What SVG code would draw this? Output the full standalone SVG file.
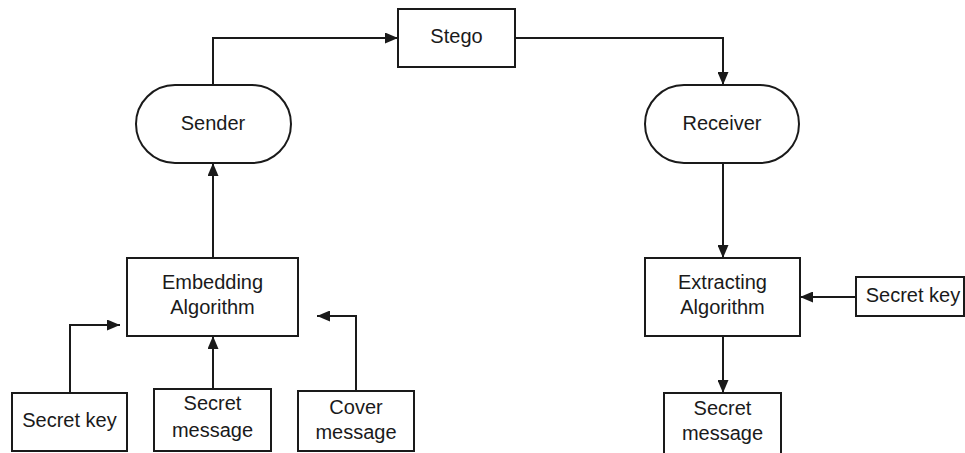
<svg xmlns="http://www.w3.org/2000/svg" width="965" height="453" viewBox="0 0 965 453">
<defs>
<marker id="ah" viewBox="0 0 13 11" refX="13" refY="5.500" markerWidth="13" markerHeight="11" markerUnits="userSpaceOnUse" orient="auto">
<path d="M0,0 L13,5.500 L0,11 Z" fill="#1a1a1a"/>
</marker>
</defs>
<style>
.box{fill:#fff;stroke:#1a1a1a;stroke-width:2}
.t{font-family:"Liberation Sans",Arial,sans-serif;font-size:20px;fill:#1a1a1a;text-anchor:middle}
.c{fill:none;stroke:#1a1a1a;stroke-width:2;marker-end:url(#ah)}
</style>
<rect width="965" height="453" fill="#fff"/>
<g id="connectors">
<path class="c" d="M213,85 V38 H398"/>
<path class="c" d="M515,38 H723 V85"/>
<path class="c" d="M213,258 V163"/>
<path class="c" d="M723,163 V258"/>
<path class="c" d="M856,297 H800"/>
<path class="c" d="M723,336 V393"/>
<path class="c" d="M70,393 V325 H120"/>
<path class="c" d="M213,389 V336"/>
<path class="c" d="M356,391 V316 H317"/>
</g>
<g id="stego"><rect class="box" x="398" y="9" width="117" height="58"/><text class="t" x="456.500" y="43">Stego</text></g>
<g id="sender"><rect class="box" x="136" y="85" width="155" height="78" rx="39"/><text class="t" x="213" y="130">Sender</text></g>
<g id="receiver"><rect class="box" x="645" y="85" width="154" height="78" rx="39"/><text class="t" x="722" y="130">Receiver</text></g>
<g id="embedding"><rect class="box" x="127" y="258" width="171" height="78"/><text class="t" x="212.500" y="289">Embedding</text><text class="t" x="212.500" y="314">Algorithm</text></g>
<g id="extracting"><rect class="box" x="645" y="258" width="155" height="78"/><text class="t" x="722.500" y="289">Extracting</text><text class="t" x="722.500" y="314">Algorithm</text></g>
<g id="secret-key-right"><rect class="box" x="856" y="277" width="108" height="39"/><text class="t" x="913" y="302">Secret key</text></g>
<g id="secret-message-right"><rect class="box" x="664" y="393" width="117" height="62"/><text class="t" x="722.500" y="415">Secret</text><text class="t" x="722.500" y="440">message</text></g>
<g id="secret-key-left"><rect class="box" x="12" y="393" width="115" height="58"/><text class="t" x="69.500" y="427">Secret key</text></g>
<g id="secret-message-left"><rect class="box" x="154" y="389" width="117" height="62"/><text class="t" x="212.500" y="410">Secret</text><text class="t" x="212.500" y="437">message</text></g>
<g id="cover-message"><rect class="box" x="298" y="391" width="116" height="60"/><text class="t" x="356" y="414">Cover</text><text class="t" x="356" y="439">message</text></g>
</svg>
